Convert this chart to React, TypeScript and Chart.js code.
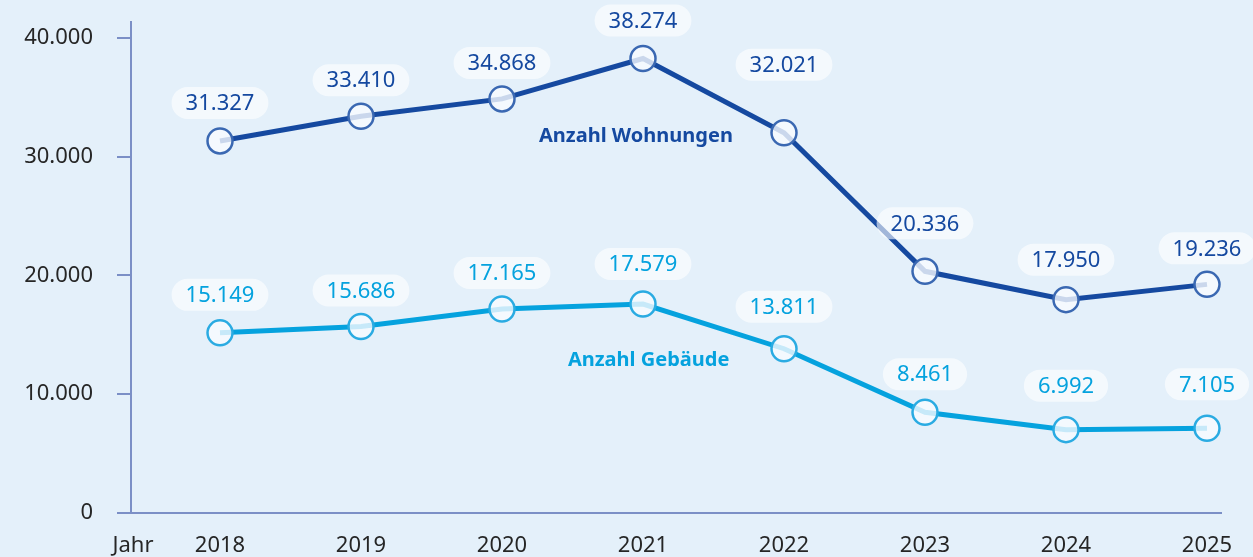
import React, { useEffect, useRef } from "react";
import { Chart, registerables } from "chart.js";

Chart.register(...registerables);

// ---- data ----
const years = [2018, 2019, 2020, 2021, 2022, 2023, 2024, 2025];
const wohnungen = [31327, 33410, 34868, 38274, 32021, 20336, 17950, 19236];
const gebaeude = [15149, 15686, 17165, 17579, 13811, 8461, 6992, 7105];
const yTickValues = [0, 10000, 20000, 30000, 40000];
const xAxisWord = "Jahr";
const seriesNames = ["Anzahl Wohnungen", "Anzahl Gebäude"];

// ---- styles ----
const DARK = "#1549a0";
const DARK_POINT = "#3a68b2";
const LIGHT = "#05a2de";
const LIGHT_POINT = "#2aabe2";
const AXIS = "#7b8fc6";
const TICK_TEXT = "#262626";
const BG = "#e4f0fa";
const FONT = "'Noto Sans', sans-serif";

// label lift (px above the point) per dataset / point
const labelLift = [
  [38, 36, 36, 38, 68, 48, 40, 36],
  [38, 36, 36, 40, 42, 38, 44, 44],
];

const fmt = (v: number) => String(Math.round(v)).replace(/\B(?=(\d{3})+(?!\d))/g, ".");

const labelsPlugin = {
  id: "valueLabels",
  afterDatasetsDraw(chart: any) {
    const ctx = chart.ctx;
    ctx.save();
    chart.data.datasets.forEach((ds: any, di: number) => {
      const meta = chart.getDatasetMeta(di);
      meta.data.forEach((pt: any, i: number) => {
        const text = fmt(ds.data[i].y);
        ctx.font = `22px ${FONT}`;
        const w = ctx.measureText(text).width + 28;
        const h = 32;
        const cx = pt.x;
        const cy = pt.y - labelLift[di][i];
        ctx.fillStyle = "rgba(255,255,255,0.6)";
        ctx.beginPath();
        (ctx as any).roundRect(cx - w / 2, cy - h / 2, w, h, 16);
        ctx.fill();
        ctx.fillStyle = ds.borderColor;
        ctx.textAlign = "center";
        ctx.textBaseline = "middle";
        ctx.fillText(text, cx, cy + 1);
      });
    });
    // series names
    const xs = chart.scales.x;
    const ys = chart.scales.y;
    ctx.font = `bold 20px ${FONT}`;
    ctx.textAlign = "center";
    ctx.textBaseline = "middle";
    ctx.fillStyle = DARK;
    ctx.fillText(seriesNames[0], xs.getPixelForValue(2020.95), ys.getPixelForValue(31700));
    ctx.fillStyle = LIGHT;
    ctx.fillText(seriesNames[1], xs.getPixelForValue(2021.04), ys.getPixelForValue(12800));
    ctx.restore();
  },
};

export default function App() {
  const ref = useRef<HTMLCanvasElement>(null);
  useEffect(() => {
    document.body.style.margin = "0";
    const chart = new Chart(ref.current!, {
      type: "line",
      data: {
        datasets: [
          {
            label: seriesNames[0],
            data: years.map((y, i) => ({ x: y, y: wohnungen[i] })),
            borderColor: DARK,
            borderWidth: 5,
            pointRadius: 12.5,
            pointBorderWidth: 2.5,
            pointBorderColor: DARK_POINT,
            pointBackgroundColor: "rgba(248,251,255,0.8)",
            tension: 0,
            clip: false as any,
          },
          {
            label: seriesNames[1],
            data: years.map((y, i) => ({ x: y, y: gebaeude[i] })),
            borderColor: LIGHT,
            borderWidth: 5,
            pointRadius: 12.5,
            pointBorderWidth: 2.5,
            pointBorderColor: LIGHT_POINT,
            pointBackgroundColor: "rgba(248,251,255,0.8)",
            tension: 0,
            clip: false as any,
          },
        ],
      },
      options: {
        animation: false,
        responsive: false,
        maintainAspectRatio: false,
        layout: { padding: { top: 22, right: 32, bottom: 0, left: 0 } },
        plugins: { legend: { display: false }, tooltip: { enabled: false } },
        scales: {
          x: {
            type: "linear",
            min: 2018 - 89 / 141,
            max: 2025 + 14 / 141,
            afterBuildTicks: (s: any) => {
              s.ticks = [{ value: 2018 - 87 / 141 }, ...years.map((v) => ({ value: v }))];
            },
            afterFit: (s: any) => {
              s.height = 46.4;
              s.paddingLeft = 0;
              s.paddingRight = 0;
            },
            grid: { display: true, drawOnChartArea: false, drawTicks: false },
            border: { display: true, color: AXIS, width: 2 },
            ticks: {
              autoSkip: false,
              maxRotation: 0,
              padding: 20,
              color: TICK_TEXT,
              font: { family: FONT, size: 22 },
              callback: (v: any) => (v < 2018 ? xAxisWord : String(v)),
            },
          },
          y: {
            min: 0,
            max: 41350,
            afterBuildTicks: (s: any) => {
              s.ticks = yTickValues.map((v) => ({ value: v }));
            },
            afterFit: (s: any) => {
              s.width = 131;
              s.paddingTop = 0;
              s.paddingBottom = 0;
            },
            grid: { display: true, drawOnChartArea: false, drawTicks: true, tickLength: 14, color: AXIS, lineWidth: 2 },
            border: { display: true, color: AXIS, width: 2 },
            ticks: {
              padding: 24,
              color: TICK_TEXT,
              font: { family: FONT, size: 22 },
              callback: (v: any) => fmt(Number(v)),
            },
          },
        },
      },
      plugins: [labelsPlugin],
    });
    return () => chart.destroy();
  }, []);
  return (
    <div style={{ width: 1253, height: 557, overflow: "hidden", background: BG }}>
      <canvas ref={ref} width={1253} height={559.4} style={{ display: "block", width: 1253, height: 559 }} />
    </div>
  );
}
